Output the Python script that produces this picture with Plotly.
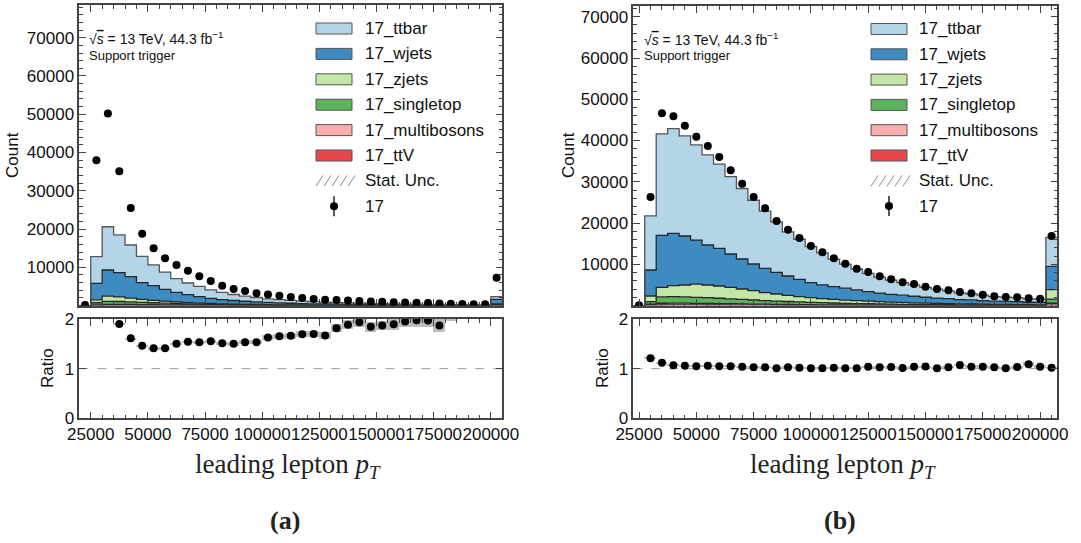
import numpy as np
import plotly.graph_objects as go

# ---------------------------------------------------------------------------
# Leading lepton pT, 2017 samples. 37 bins of 5 GeV (in MeV), last bin is overflow.
# ---------------------------------------------------------------------------
BIN_WIDTH = 5000

# (a) support trigger, bins start at 20000
first_edge_a = 20000
data_a = [150, 38000, 50200, 35100, 25500, 18800, 15000, 12350, 10600, 9100, 7700,
          6400, 5200, 4350, 3800, 3250, 2900, 2550, 2250, 2000, 1730, 1550, 1450,
          1300, 1200, 1050, 1000, 900, 800, 720, 650, 560, 500, 430, 380, 340, 7300]
ttbar_a = [0, 7000, 11300, 9870, 8290, 6880, 5440, 4510, 3600, 3060, 2700, 2230, 1860,
           1570, 1340, 1145, 960, 835, 735, 640, 550, 505, 435, 375, 335, 310, 290,
           257, 222, 197, 178, 162, 124, 103, 86, 76, 680]
wjets_a = [0, 4300, 6800, 6330, 5575, 4350, 3820, 3100, 2510, 2048, 1658, 1336, 1107,
           931, 802, 688, 576, 502, 443, 389, 341, 314, 269, 232, 213, 198, 190, 170,
           146, 132, 120, 111, 88, 66, 55, 48, 1180]
zjets_a = [0, 760, 1370, 1200, 1000, 800, 640, 510, 410, 330, 265, 215, 175, 142, 116,
           95, 78, 64, 53, 44, 36, 30, 25, 21, 18, 15, 13, 11, 9, 8, 7, 6, 5, 4, 4, 3, 150]
singletop_a = [0, 550, 800, 750, 680, 590, 510, 440, 375, 320, 275, 235, 200, 172, 148,
               127, 109, 94, 81, 70, 60, 52, 45, 39, 34, 30, 26, 23, 20, 17, 15, 13, 11,
               10, 9, 8, 200]
multibosons_a = [0, 150, 260, 250, 230, 200, 175, 150, 130, 112, 96, 82, 70, 60, 52, 45,
                 39, 34, 29, 25, 22, 19, 17, 15, 13, 11, 10, 9, 8, 7, 6, 5, 5, 4, 4, 3, 90]
ttV_a = [0, 40, 70, 70, 65, 60, 55, 50, 45, 40, 36, 32, 28, 25, 22, 20, 18, 16, 14, 12,
         11, 10, 9, 8, 7, 6, 6, 5, 5, 4, 4, 3, 3, 3, 2, 2, 30]

# (b) bins start at 22500
first_edge_b = 22500
data_b = [100, 26300, 46600, 45900, 43600, 40900, 38700, 36000, 32800, 29500, 26300,
          23600, 20500, 18400, 16400, 14450, 12900, 11460, 10150, 8950, 8140, 7100,
          6370, 5650, 5230, 4580, 4020, 3700, 3300, 2980, 2640, 2250, 2080, 2010, 1770,
          1670, 16870]
ttbar_b = [0, 13110, 24570, 25380, 24270, 23050, 21820, 20410, 18740, 17080, 15450,
           13870, 12230, 10690, 9710, 8750, 7750, 6630, 5830, 5050, 4460, 3860, 3460,
           3075, 2765, 2375, 2150, 1900, 1630, 1490, 1320, 1115, 1050, 975, 815, 805, 7040]
wjets_b = [0, 6300, 12600, 12700, 11870, 10670, 9690, 9130, 8070, 7270, 6470, 5910,
           5260, 4670, 4210, 3640, 3350, 3100, 2870, 2610, 2295, 2073, 1864, 1751, 1584,
           1418, 1288, 1205, 1017, 988, 874, 761, 733, 727, 588, 602, 5650]
zjets_b = [0, 1350, 2310, 2650, 2880, 3200, 3080, 2970, 2790, 2520, 2250, 1905, 1710,
           1510, 1280, 1125, 967, 883, 790, 705, 630, 560, 500, 445, 395, 352, 313, 279,
           248, 221, 197, 175, 156, 139, 124, 110, 2280]
singletop_b = [0, 650, 1550, 1580, 1530, 1460, 1380, 1290, 1190, 1090, 990, 890, 800,
               720, 640, 570, 510, 455, 405, 360, 320, 285, 255, 228, 204, 182, 163, 146,
               131, 117, 105, 94, 85, 76, 68, 61, 1000]
multibosons_b = [0, 250, 420, 430, 420, 400, 380, 350, 320, 290, 260, 235, 210, 190, 170,
                 150, 135, 120, 108, 97, 87, 78, 70, 63, 57, 51, 46, 42, 38, 34, 31, 28,
                 25, 23, 21, 19, 450]
ttV_b = [0, 80, 150, 160, 160, 155, 150, 140, 130, 120, 110, 100, 90, 80, 72, 65, 58, 52,
         47, 42, 38, 34, 31, 28, 25, 22, 20, 18, 16, 15, 13, 12, 11, 10, 9, 8, 120]

sample_names = ["17_ttbar", "17_wjets", "17_zjets", "17_singletop", "17_multibosons", "17_ttV"]
sample_colors = ["#b4d5e8", "#3e8bc2", "#c4e6a6", "#5cb35b", "#fcaeac", "#e8474c"]
data_name = "17"

x_ticks = [25000, 50000, 75000, 100000, 125000, 150000, 175000, 200000]
count_ticks = [10000, 20000, 30000, 40000, 50000, 60000, 70000]
ratio_ticks = [0, 1, 2]

# ---------------------------------------------------------------------------
W, H = 1081, 543
SANS = "Liberation Sans, Arial, Helvetica, sans-serif"
SERIF = "Liberation Serif, Times New Roman, serif"
AX = "#444444"


def fx(px):
    return px / W


def fy(py):
    return 1 - py / H


fig = go.Figure()
shapes = []
annotations = []


def draw_panel(first_edge, comps, data, xm, ym, xr, yr):
    data = np.asarray(data, dtype=float)
    n = len(data)
    edges = first_edge + BIN_WIDTH * np.arange(n + 1)
    centers = 0.5 * (edges[:-1] + edges[1:])

    # stacked MC, bottom (ttV) to top (ttbar), drawn as filled step outlines
    cum = np.zeros(n)
    first = True
    for vals, name, col in reversed(list(zip(comps, sample_names, sample_colors))):
        cum = cum + np.asarray(vals, dtype=float)
        fig.add_trace(go.Scatter(
            x=edges, y=np.append(cum, cum[-1]), mode="lines",
            line=dict(shape="hv", color="#555555" if name == "17_ttbar" else "#262626", width=1.3),
            fill="tozeroy" if first else "tonexty", fillcolor=col,
            xaxis=xm, yaxis=ym, name=name, showlegend=False, hoverinfo="skip"))
        first = False
    total = cum

    # MC statistical uncertainty (hatched)
    mc_err = np.sqrt(total)
    fig.add_trace(go.Bar(
        x=centers, y=2 * mc_err, base=total - mc_err, width=BIN_WIDTH,
        marker=dict(color="rgba(0,0,0,0)", line=dict(width=0),
                    pattern=dict(shape="/", fgcolor="#777777", size=6, solidity=0.15)),
        xaxis=xm, yaxis=ym, name="Stat. Unc.", showlegend=False, hoverinfo="skip"))

    # data points
    fig.add_trace(go.Scatter(
        x=centers, y=data, mode="markers",
        marker=dict(color="black", size=8),
        error_y=dict(type="data", array=np.sqrt(data), color="black", thickness=1.3, width=0),
        xaxis=xm, yaxis=ym, name=data_name, showlegend=False, hoverinfo="skip"))

    # ratio data / MC with its uncertainty band
    with np.errstate(divide="ignore", invalid="ignore"):
        ratio = np.where(total > 0, data / total, np.nan)
        r_err = ratio * np.sqrt(1.0 / data + np.where(total > 0, 1.0 / total, np.nan))
    fig.add_trace(go.Bar(
        x=centers, y=2 * r_err, base=ratio - r_err, width=BIN_WIDTH,
        marker=dict(color="#bdbdbd", line=dict(width=0)),
        xaxis=xr, yaxis=yr, showlegend=False, hoverinfo="skip"))
    fig.add_trace(go.Scatter(
        x=centers, y=ratio, mode="markers", marker=dict(color="black", size=8),
        xaxis=xr, yaxis=yr, showlegend=False, hoverinfo="skip"))

    shapes.append(dict(type="line", xref=xr + " domain", yref=yr,
                       x0=0, x1=1, y0=1, y1=1, layer="below",
                       line=dict(color="#999999", width=1, dash="dash")))


draw_panel(first_edge_a, [ttbar_a, wjets_a, zjets_a, singletop_a, multibosons_a, ttV_a],
           data_a, "x", "y", "x2", "y2")
draw_panel(first_edge_b, [ttbar_b, wjets_b, zjets_b, singletop_b, multibosons_b, ttV_b],
           data_b, "x3", "y3", "x4", "y4")

# ---------------------------------------------------------------------------
# axes
common = dict(showline=True, linecolor=AX, linewidth=1.5, mirror="ticks",
              ticks="inside", ticklen=7, tickwidth=1.2, tickcolor=AX,
              showgrid=False, zeroline=False, automargin=False,
              tickfont=dict(family=SANS, size=17, color="#111111"))


def x_axis(rng, left, right, labels, anchor):
    return dict(common, range=rng, domain=[fx(left), fx(right)], anchor=anchor,
                tickmode="array", tickvals=x_ticks,
                ticktext=[str(v) for v in x_ticks], showticklabels=labels, tickangle=0,
                minor=dict(ticks="inside", ticklen=4, tickcolor=AX, dtick=BIN_WIDTH,
                           tick0=0, showgrid=False))


def count_axis(top_val, top_px, anchor):
    return dict(common, range=[0, top_val], domain=[fy(305.6), fy(top_px)], anchor=anchor,
                tickmode="array", tickvals=count_ticks,
                ticktext=[str(v) for v in count_ticks],
                minor=dict(ticks="inside", ticklen=4, tickcolor=AX, dtick=2000,
                           tick0=0, showgrid=False))


def ratio_axis(anchor):
    return dict(common, range=[0, 2], domain=[fy(418.3), fy(319)], anchor=anchor,
                tickmode="array", tickvals=ratio_ticks,
                ticktext=[str(v) for v in ratio_ticks])


A_L, A_R = 79.3, 502.3
B_L, B_R = 633.3, 1057.3

layout_axes = dict(
    xaxis=x_axis([20000, 205000], A_L, A_R, False, "y"),
    yaxis=count_axis(78470, 5.3, "x"),
    xaxis2=x_axis([20000, 205000], A_L, A_R, True, "y2"),
    yaxis2=ratio_axis("x2"),
    xaxis3=x_axis([22500, 207500], B_L, B_R, False, "y3"),
    yaxis3=count_axis(72600, 6.0, "x3"),
    xaxis4=x_axis([22500, 207500], B_L, B_R, True, "y4"),
    yaxis4=ratio_axis("x4"),
)


# ---------------------------------------------------------------------------
# text and legends
def text(x, y, s, size, family=SANS, anchor="center", angle=0, color="#111111"):
    annotations.append(dict(x=fx(x), y=fy(y), xref="paper", yref="paper", text=s,
                            showarrow=False, xanchor=anchor, yanchor="middle",
                            textangle=angle, font=dict(family=family, size=size, color=color)))


def legend(patch_left, text_left, row0, step):
    rows = sample_names + ["Stat. Unc.", data_name]
    for i, label in enumerate(rows):
        yc = row0 + i * step
        if i < len(sample_names):
            shapes.append(dict(type="rect", xref="paper", yref="paper",
                               x0=fx(patch_left), x1=fx(patch_left + 36),
                               y0=fy(yc + 5.5), y1=fy(yc - 5.5),
                               fillcolor=sample_colors[i], line=dict(color="#555555", width=1)))
        elif label == "Stat. Unc.":
            for k in range(5):
                x0 = patch_left + k * 8
                shapes.append(dict(type="line", xref="paper", yref="paper",
                                   x0=fx(x0), x1=fx(x0 + 7), y0=fy(yc + 5.5), y1=fy(yc - 5.5),
                                   line=dict(color="#8a8a8a", width=1)))
        else:
            xc = patch_left + 18
            shapes.append(dict(type="line", xref="paper", yref="paper",
                               x0=fx(xc), x1=fx(xc), y0=fy(yc + 10), y1=fy(yc - 10),
                               line=dict(color="black", width=1.3)))
            shapes.append(dict(type="circle", xref="paper", yref="paper",
                               x0=fx(xc - 4), x1=fx(xc + 4), y0=fy(yc + 4), y1=fy(yc - 4),
                               fillcolor="black", line=dict(color="black", width=0)))
        text(text_left, yc, label, 17, anchor="left")


legend(316, 363, 28.5, 25.4)
legend(871, 917, 29.0, 25.3)

energy = "√<span style='text-decoration:overline'><i>s</i></span> = 13 TeV, 44.3 fb<sup>−1</sup>"
text(87, 38, energy, 14, anchor="left")
text(87, 56, "Support trigger", 13, anchor="left")
text(642, 39, energy, 14, anchor="left")
text(642, 56, "Support trigger", 13, anchor="left")

text(12, 155, "Count", 17, angle=-90)
text(568, 155, "Count", 17, angle=-90)
text(47, 368, "Ratio", 17, angle=-90)
text(602, 368, "Ratio", 17, angle=-90)

x_title = "leading lepton <i>p</i><sub><i>T</i></sub>"
text(288, 466, x_title, 27, family=SERIF, color="#222222")
text(843, 466, x_title, 27, family=SERIF, color="#222222")
text(285, 520, "<b>(a)</b>", 26, family=SERIF, color="#222222")
text(840, 520, "<b>(b)</b>", 26, family=SERIF, color="#222222")

fig.update_layout(
    width=W, height=H, margin=dict(l=0, r=0, t=0, b=0, pad=0),
    paper_bgcolor="white", plot_bgcolor="white",
    showlegend=False, barmode="overlay", bargap=0,
    shapes=shapes, annotations=annotations,
    **layout_axes,
)

fig.write_html("out.html")
